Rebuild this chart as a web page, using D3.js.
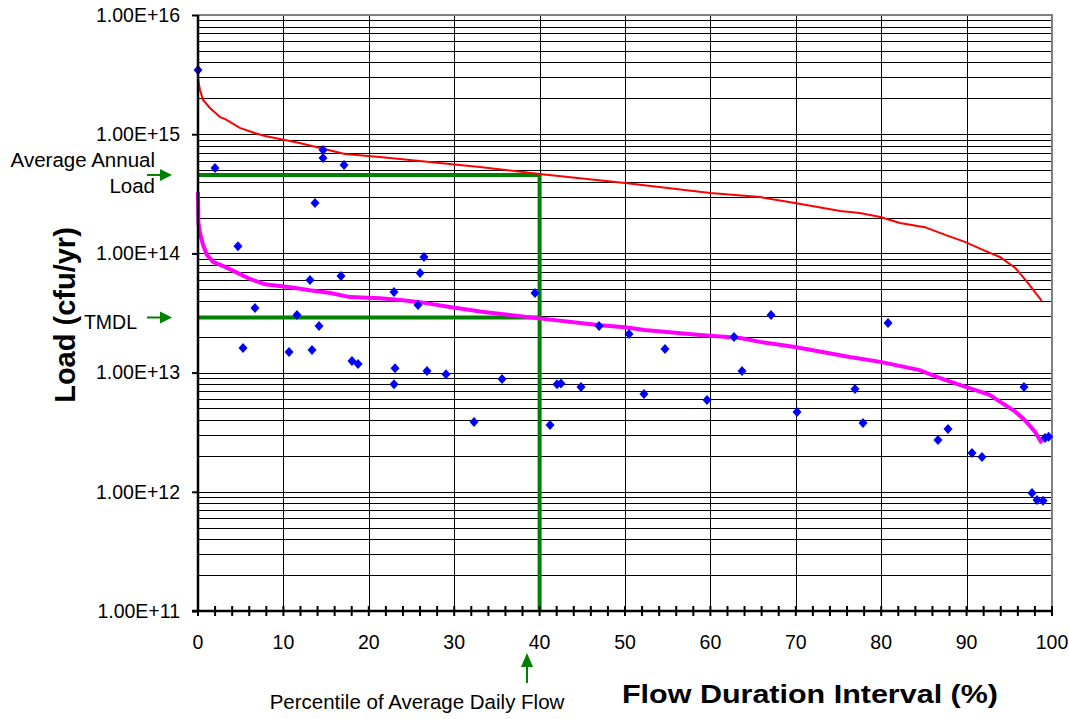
<!DOCTYPE html>
<html>
<head>
<meta charset="utf-8">
<script src="https://cdn.jsdelivr.net/npm/d3@7"></script>
<style>
  body { margin: 0; background: #fff; }
  text { font-family: Arial, "Liberation Sans", sans-serif; }
</style>
</head>
<body>
<div id="chart"></div>
<script>
// load duration curve

const xTickValues = [0, 10, 20, 30, 40, 50, 60, 70, 80, 90, 100];
const yTickValues = [1e11, 1e12, 1e13, 1e14, 1e15, 1e16];
const yTickLabels = ["1.00E+11", "1.00E+12", "1.00E+13", "1.00E+14", "1.00E+15", "1.00E+16"];

// red curve: load at average concentration
const avgLoadCurve = [
    [0, 5.28e15], [0.02, 2.9e15], [0.23, 2.35e15], [0.59, 1.94e15], [1.4, 1.66e15],
    [2.6, 1.39e15], [3.2, 1.34e15], [4.9, 1.13e15], [6.7, 1.02e15], [7.85, 9.66e14],
    [9.6, 9.1e14], [11.9, 8.44e14], [14.3, 7.66e14], [17.2, 6.82e14], [21.3, 6.44e14],
    [28.3, 5.73e14], [33.0, 5.3e14], [40, 4.63e14],
    [50, 3.9e14], [60, 3.21e14], [65.8, 2.97e14], [69.9, 2.65e14], [75.2, 2.27e14],
    [77.5, 2.18e14], [79.9, 2.02e14], [82.2, 1.8e14], [85.1, 1.66e14], [87.5, 1.43e14],
    [89.8, 1.25e14], [91.9, 1.07e14], [93.9, 9.33e13], [95.7, 7.55e13], [97.1, 5.75e13],
    [98.8, 3.99e13]
];

// magenta curve: load at criterion (TMDL)
const tmdlCurve = [
    [0, 3.27e14], [0.05, 1.8e14], [0.23, 1.48e14], [0.59, 1.18e14], [1.05, 9.7e13],
    [1.76, 8.5e13], [3.16, 7.7e13], [4.57, 6.9e13], [6.09, 6.1e13], [7.85, 5.5e13],
    [10.8, 5.2e13], [13.1, 4.9e13], [15.5, 4.66e13], [17.8, 4.3e13], [21.3, 4.2e13],
    [23.7, 4.06e13], [26.0, 3.9e13], [29.5, 3.55e13], [31.9, 3.35e13], [33.0, 3.25e13],
    [40, 2.85e13], [47.1, 2.5e13], [50, 2.4e13], [52.3, 2.28e13], [58.8, 2.07e13],
    [63.5, 1.95e13], [65.8, 1.81e13], [68.1, 1.71e13], [69.9, 1.64e13], [76.3, 1.35e13],
    [79.9, 1.23e13], [84.5, 1.05e13], [86.9, 9.0e12], [89.2, 7.9e12], [92.7, 6.5e12],
    [93.9, 5.7e12], [95.7, 4.7e12], [96.8, 4.0e12], [98.0, 3.2e12], [98.8, 2.56e12]
];

// observed loads
const observed = [
    [0, 3.46e15], [1.99, 5.2e14], [4.68, 1.15e14], [5.27, 1.61e13], [6.67, 3.48e13],
    [10.66, 1.49e13], [11.59, 3.04e13], [13.11, 5.98e13], [13.35, 1.55e13], [13.7, 2.65e14],
    [14.17, 2.46e13], [14.64, 7.37e14], [14.64, 6.3e14], [16.74, 6.46e13], [17.1, 5.52e14],
    [18.03, 1.25e13], [18.74, 1.18e13], [22.95, 4.74e13], [22.95, 8.0e12], [23.07, 1.09e13],
    [25.76, 3.69e13], [26.0, 6.85e13], [26.46, 9.33e13], [26.81, 1.03e13], [29.04, 9.7e12],
    [32.32, 3.86e12], [35.6, 8.84e12], [39.46, 4.66e13], [41.22, 3.63e12], [42.04, 8.0e12],
    [42.5, 8.1e12], [44.85, 7.57e12], [46.96, 2.46e13], [50.47, 2.11e13], [52.22, 6.61e12],
    [54.68, 1.58e13], [59.6, 5.89e12], [62.76, 1.99e13], [63.7, 1.03e13], [67.1, 3.04e13],
    [70.14, 4.67e12], [76.93, 7.28e12], [77.87, 3.78e12], [80.8, 2.61e13], [86.65, 2.72e12],
    [87.82, 3.36e12], [90.63, 2.12e12], [91.8, 1.96e12], [96.72, 7.57e12], [99.18, 2.83e12],
    [99.6, 2.9e12], [97.66, 9.77e11], [98.24, 8.54e11], [98.95, 8.4e11]
];

const avgAnnualLoad = 4.55e14;
const tmdlLoad = 2.9e13;
const avgFlowPercentile = 40;

const width = 1069;
const height = 719;
const margin = { top: 15, right: 17, bottom: 108, left: 198 };
const innerW = width - margin.left - margin.right;
const innerH = height - margin.top - margin.bottom;

const svg = d3.select("#chart")
    .append("svg")
    .attr("width", width)
    .attr("height", height);

const g = svg.append("g")
    .attr("transform", `translate(${margin.left},${margin.top})`);

const xScale = d3.scaleLinear().domain([0, 100]).range([0, innerW]);
const yScale = d3.scaleLog().domain([1e11, 1e16]).range([innerH, 0]);

// horizontal grid (every log minor tick)
g.selectAll(".hgrid")
    .data(yScale.ticks())
    .enter()
    .append("line")
    .attr("class", "hgrid")
    .attr("x1", 0)
    .attr("x2", innerW)
    .attr("y1", d => Math.round(yScale(d)) + 0.5)
    .attr("y2", d => Math.round(yScale(d)) + 0.5)
    .attr("stroke", "#000")
    .attr("stroke-width", 1);

// vertical grid
g.selectAll(".vgrid")
    .data(xTickValues.slice(1, -1))
    .enter()
    .append("line")
    .attr("class", "vgrid")
    .attr("x1", d => Math.round(xScale(d)) + 0.5)
    .attr("x2", d => Math.round(xScale(d)) + 0.5)
    .attr("y1", 0)
    .attr("y2", innerH)
    .attr("stroke", "#000")
    .attr("stroke-width", 1);

// grey frame top / right
g.append("line")
    .attr("x1", 0).attr("x2", innerW + 1)
    .attr("y1", 0).attr("y2", 0)
    .attr("stroke", "#808080").attr("stroke-width", 2);
g.append("line")
    .attr("x1", innerW).attr("x2", innerW)
    .attr("y1", 0).attr("y2", innerH)
    .attr("stroke", "#808080").attr("stroke-width", 2);

// green reference lines
const green = "#008000";
g.append("line")
    .attr("x1", xScale(0)).attr("x2", xScale(avgFlowPercentile))
    .attr("y1", yScale(avgAnnualLoad)).attr("y2", yScale(avgAnnualLoad))
    .attr("stroke", green).attr("stroke-width", 4);
g.append("line")
    .attr("x1", xScale(0)).attr("x2", xScale(avgFlowPercentile))
    .attr("y1", yScale(tmdlLoad)).attr("y2", yScale(tmdlLoad))
    .attr("stroke", green).attr("stroke-width", 4);
g.append("line")
    .attr("x1", xScale(avgFlowPercentile)).attr("x2", xScale(avgFlowPercentile))
    .attr("y1", yScale(avgAnnualLoad) - 2).attr("y2", innerH)
    .attr("stroke", green).attr("stroke-width", 4);

const line = d3.line()
    .x(d => xScale(d[0]))
    .y(d => yScale(d[1]));

g.append("path")
    .datum(avgLoadCurve)
    .attr("d", line)
    .attr("fill", "none")
    .attr("stroke", "#ff0000")
    .attr("stroke-width", 2);

g.append("path")
    .datum(tmdlCurve)
    .attr("d", line)
    .attr("fill", "none")
    .attr("stroke", "#ff00ff")
    .attr("stroke-width", 4);

// observed points as diamonds
g.selectAll(".obs")
    .data(observed)
    .enter()
    .append("path")
    .attr("class", "obs")
    .attr("d", "M0,-5L4.5,0L0,5L-4.5,0Z")
    .attr("transform", d => `translate(${xScale(d[0])},${yScale(d[1])})`)
    .attr("fill", "#0000ff");

// axes
const yAxis = d3.axisLeft(yScale)
    .tickValues(yTickValues)
    .tickFormat((d, i) => yTickLabels[i])
    .tickSize(6)
    .tickPadding(12);

const yAxisG = g.append("g").call(yAxis);
yAxisG.select(".domain").attr("stroke-width", 2.5).attr("d", `M0,${innerH}V0`);
yAxisG.selectAll(".tick line").attr("stroke-width", 2);
yAxisG.selectAll("text")
    .attr("font-size", 19.5)
    .attr("fill", "#000");

const xMinor = d3.range(0, 101, 2);
const xAxisG = g.append("g").attr("transform", `translate(0,${innerH})`);
xAxisG.append("line")
    .attr("x1", -6).attr("x2", innerW)
    .attr("stroke", "#000").attr("stroke-width", 2.5);
xAxisG.selectAll(".xtick")
    .data(xMinor)
    .enter()
    .append("line")
    .attr("class", "xtick")
    .attr("x1", d => xScale(d)).attr("x2", d => xScale(d))
    .attr("y1", -5).attr("y2", 5)
    .attr("stroke", "#000").attr("stroke-width", 2);
xAxisG.selectAll(".xlabel")
    .data(xTickValues)
    .enter()
    .append("text")
    .attr("class", "xlabel")
    .attr("x", d => xScale(d))
    .attr("y", 38)
    .attr("text-anchor", "middle")
    .attr("font-size", 19.5)
    .text(d => d);

// axis titles
svg.append("text")
    .attr("x", 622)
    .attr("y", 703)
    .attr("font-size", 25)
    .attr("font-weight", "bold")
    .attr("textLength", 376)
    .attr("lengthAdjust", "spacingAndGlyphs")
    .text("Flow Duration Interval (%)");

svg.append("text")
    .attr("transform", "translate(75,315) rotate(-90)")
    .attr("text-anchor", "middle")
    .attr("font-size", 29)
    .attr("font-weight", "bold")
    .text("Load (cfu/yr)");

// annotations
function arrowRight(y) {
    svg.append("line")
        .attr("x1", 147).attr("x2", 162)
        .attr("y1", y).attr("y2", y)
        .attr("stroke", green).attr("stroke-width", 2);
    svg.append("path")
        .attr("d", `M160,${y - 6}L172,${y}L160,${y + 6}Z`)
        .attr("fill", green);
}

svg.append("text")
    .attr("x", 155).attr("y", 167)
    .attr("text-anchor", "end")
    .attr("font-size", 20.5)
    .text("Average Annual");
svg.append("text")
    .attr("x", 155).attr("y", 193)
    .attr("text-anchor", "end")
    .attr("font-size", 20.5)
    .text("Load");
arrowRight(margin.top + yScale(avgAnnualLoad));

svg.append("text")
    .attr("x", 137).attr("y", 329)
    .attr("text-anchor", "end")
    .attr("font-size", 19.5)
    .text("TMDL");
arrowRight(margin.top + yScale(tmdlLoad));

// arrow for average daily flow percentile
const ax = 527;
svg.append("line")
    .attr("x1", ax).attr("x2", ax)
    .attr("y1", 664).attr("y2", 683)
    .attr("stroke", green).attr("stroke-width", 2);
svg.append("path")
    .attr("d", `M${ax - 6},667L${ax},653L${ax + 6},667Z`)
    .attr("fill", green);

svg.append("text")
    .attr("x", 417).attr("y", 709)
    .attr("text-anchor", "middle")
    .attr("font-size", 20.5)
    .text("Percentile of Average Daily Flow");
</script>
</body>
</html>
